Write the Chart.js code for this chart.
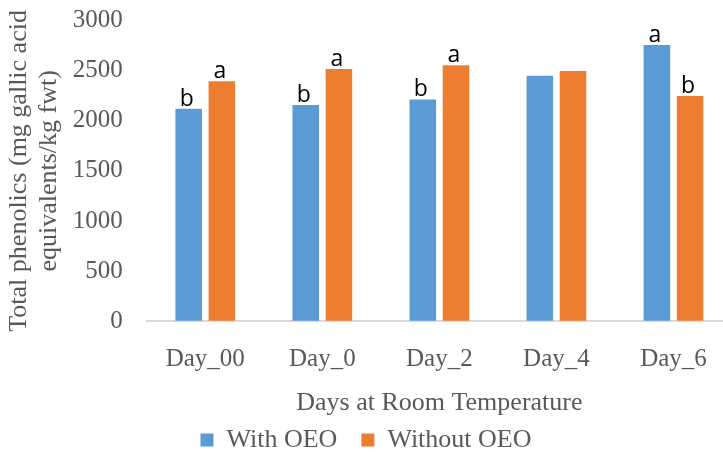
<!DOCTYPE html>
<html>
<head>
<meta charset="utf-8">
<script src="https://cdn.jsdelivr.net/npm/chart.js@4/dist/chart.umd.min.js"></script>
<style>
  html, body { margin: 0; padding: 0; background: #fff; overflow: hidden; }
  #wrap { width: 723px; height: 453px; overflow: hidden; }
  canvas { display: block; }
</style>
</head>
<body>
<div id="wrap">
  <canvas id="grafico" width="742" height="463" style="width:742px;height:463px"></canvas>
</div>
<script>
// dados
const categorias = ["Day_00", "Day_0", "Day_2", "Day_4", "Day_6"];
const comOEO = [2120, 2157, 2213, 2448, 2756];
const semOEO = [2395, 2517, 2554, 2497, 2246];
const letrasCom = ["b", "b", "b", "", "a"];
const letrasSem = ["a", "a", "a", "", "b"];
const ticksY = [0, 500, 1000, 1500, 2000, 2500, 3000];

const serif = "'Liberation Serif', 'Times New Roman', serif";
const cinza = "#595959";

// Letras de significância acima das barras
const pluginLetras = {
  id: "letras",
  afterDatasetsDraw(chart) {
    const ctx = chart.ctx;
    const letras = [letrasCom, letrasSem];
    ctx.save();
    ctx.font = "23px 'Open Sans', 'Liberation Sans', sans-serif";
    ctx.fillStyle = "#000";
    ctx.textAlign = "center";
    ctx.textBaseline = "alphabetic";
    chart.data.datasets.forEach((ds, i) => {
      chart.getDatasetMeta(i).data.forEach((bar, j) => {
        const txt = letras[i][j];
        if (txt) ctx.fillText(txt, bar.x - 2, bar.y - 3);
      });
    });
    ctx.restore();
  }
};

new Chart(document.getElementById("grafico"), {
  type: "bar",
  data: {
    labels: categorias,
    datasets: [
      { label: "With OEO", data: comOEO, backgroundColor: "#5B9BD5",
        categoryPercentage: 0.567, barPercentage: 0.8 },
      { label: "Without OEO", data: semOEO, backgroundColor: "#ED7D31",
        categoryPercentage: 0.567, barPercentage: 0.8 }
    ]
  },
  options: {
    responsive: false,
    animation: false,
    layout: { padding: { top: 20.5, right: 10, left: 0, bottom: 0 } },
    plugins: {
      tooltip: { enabled: false },
      legend: {
        position: "bottom",
        labels: {
          boxWidth: 13, boxHeight: 13, padding: 24,
          color: cinza,
          font: { family: serif, size: 26 }
        }
      }
    },
    scales: {
      x: {
        grid: { display: false, drawTicks: false },
        border: { display: true, color: "#d9d9d9", width: 2 },
        ticks: { color: cinza, font: { family: serif, size: 25 }, padding: 23 },
        title: {
          display: true, text: "Days at Room Temperature", color: cinza,
          font: { family: serif, size: 26 }, padding: { top: -9.5, bottom: -16 }
        }
      },
      y: {
        min: 0, max: 3000,
        afterBuildTicks: scale => { scale.ticks = ticksY.map(v => ({ value: v })); },
        grid: { display: true, drawOnChartArea: false, drawTicks: true, tickLength: 20, color: "rgba(0,0,0,0)" },
        border: { display: false },
        ticks: {
          color: cinza, font: { family: serif, size: 25 }, padding: 4,
          callback: v => String(v)
        },
        title: {
          display: true,
          text: ["Total phenolics (mg gallic acid", "equivalents/kg fwt)"],
          color: cinza,
          font: { family: serif, size: 26, lineHeight: 1.12 },
          padding: { top: 5, bottom: 5.5 }
        }
      }
    }
  },
  plugins: [pluginLetras]
});
</script>
</body>
</html>
